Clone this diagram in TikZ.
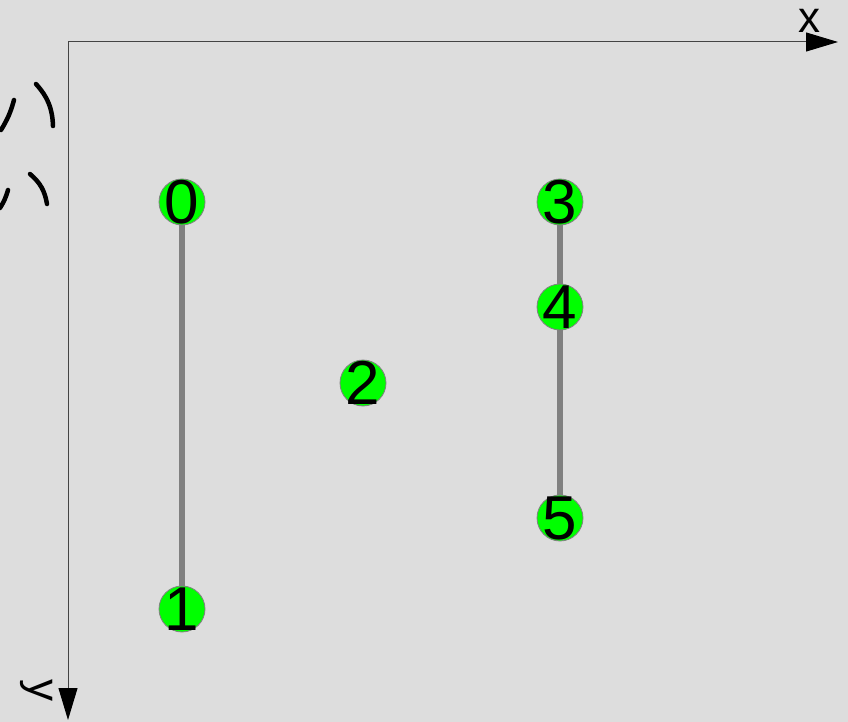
\documentclass[tikz,border=0pt]{standalone}
\usepackage{fontspec}
\setmainfont{Liberation Sans}
\usetikzlibrary{arrows.meta,backgrounds}
\definecolor{bg}{HTML}{DDDDDD}
\definecolor{axis}{HTML}{444444}
\definecolor{edge}{HTML}{808080}
\definecolor{nodefill}{HTML}{00FF00}
\begin{document}
\begin{tikzpicture}[x=1pt,y=-1pt,
  pt/.style={circle,fill=nodefill,draw=edge,line width=0.8pt,minimum size=46pt,inner sep=0pt},
  num/.style={font=\fontsize{62}{62}\selectfont,inner sep=0pt},
  link/.style={draw=edge,line width=6.5pt},
  axisline/.style={draw=axis,line width=1pt,-{Triangle[length=32pt,width=19pt,color=black]}},
  strokefrag/.style={line width=4.5pt,line cap=round,black}]
\useasboundingbox (0,0) rectangle (848,722);
\coordinate (o) at (68,42);
\coordinate (xe) at (838,42);
\coordinate (ye) at (68,720);
\draw[axisline] (o) -- (xe);
\draw[axisline] (o) -- (ye);
\node[font=\fontsize{44}{44}\selectfont,inner sep=0pt,anchor=base] (xl) at (809,33) {x};
\node[font=\fontsize{44}{44}\selectfont,rotate=-90,inner sep=0pt] (yl) at (37,690) {y};
% clipped label fragments on the left
\draw[strokefrag] (14,100) to[bend left=8] (1,130);
\draw[strokefrag] (36,84) to[bend left=20] (53,126);
\draw[strokefrag] (8,190) to[bend left=8] (0,208);
\draw[strokefrag] (30,174) to[bend left=20] (47,204);
% nodes
\node[pt] (n0) at (182,202) {};
\node[pt] (n1) at (182,609) {};
\node[pt] (n2) at (363,383) {};
\node[pt] (n3) at (560,202) {};
\node[pt] (n4) at (560,307) {};
\node[pt] (n5) at (560,518) {};
\node[num] (t0) at (n0) {0};
\node[num] (t1) at (n1) {1};
\node[num] (t2) at (n2) {2};
\node[num] (t3) at (n3) {3};
\node[num] (t4) at (n4) {4};
\node[num] (t5) at (n5) {5};
\begin{scope}[on background layer]
\fill[bg] (0,0) rectangle (848,722);
\draw[link] (n0) -- (n1);
\draw[link] (n3) -- (n4);
\draw[link] (n4) -- (n5);
\end{scope}
\end{tikzpicture}
\end{document}
